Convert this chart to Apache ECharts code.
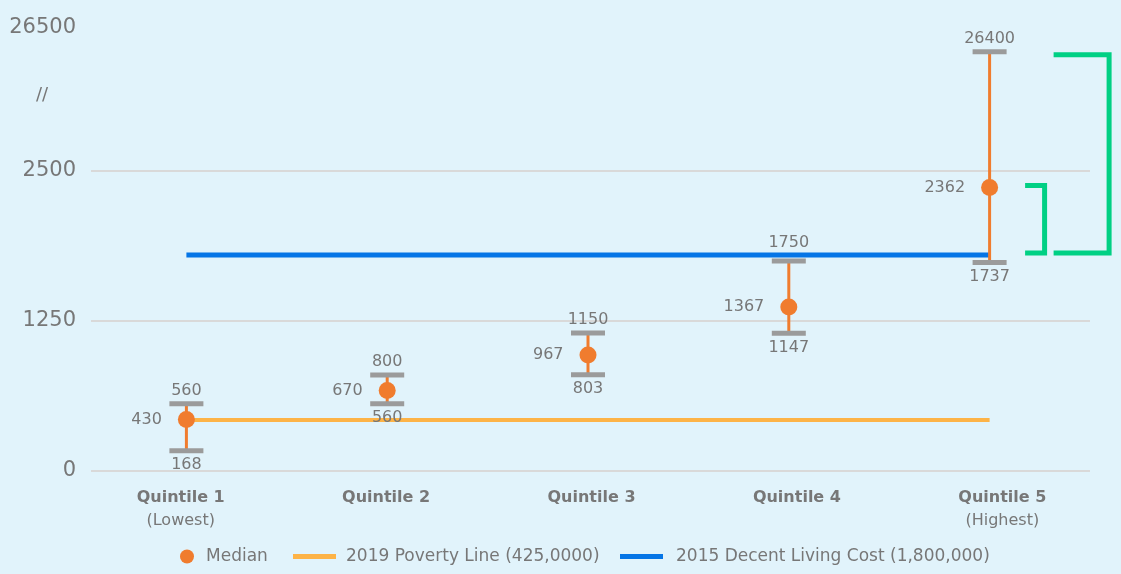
<!DOCTYPE html>
<html>
<head>
<meta charset="utf-8">
<style>
  html, body { margin: 0; padding: 0; background: #E1F3FB; }
  #chart { width: 1121px; height: 574px; }
</style>
<script src="https://cdn.jsdelivr.net/npm/echarts@6/dist/echarts.min.js"></script>
</head>
<body>
<div id="chart"></div>
<script>
// ---------- data ----------
const categories = ['Quintile 1', 'Quintile 2', 'Quintile 3', 'Quintile 4', 'Quintile 5'];
const categorySub = ['(Lowest)', '', '', '', '(Highest)'];
const medianValues = [430, 670, 967, 1367, 2362];
const lowValues = [168, 560, 803, 1147, 1737];
const highValues = [560, 800, 1150, 1750, 26400];
const povertyLine = [425, 425, 425, 425, 425];
const decentLivingCost = [1800, 1800, 1800, 1800, 1800];
const yTickValues = [0, 1250, 2500, 26500];
const bracketRanges = [[1800, 26400], [1800, 2362]];
const seriesNames = ['Median', '2019 Poverty Line (425,0000)', '2015 Decent Living Cost (1,800,000)'];

// ---------- broken axis mapping ----------
const AXIS_BREAK = 2500;          // linear up to here
const BREAK_SCALE = 0.04159;      // compression above the break
const AXIS_TOP_DISPLAY = 3692;    // display position of the top tick
function disp(v) { return v <= AXIS_BREAK ? v : AXIS_BREAK + (v - AXIS_BREAK) * BREAK_SCALE; }

// ---------- styles ----------
const FONT = '"DejaVu Sans", sans-serif';
const ORANGE = '#F07C2E';
const POVERTY = '#FDB347';
const BLUE = '#0575E6';
const GREEN = '#00D084';
const CAP = '#9B9B9B';
const TXT = '#777777';
const GRIDC = '#D9D9D9';

const chart = echarts.init(document.getElementById('chart'), null, { renderer: 'canvas' });

const gridBase = { top: 28, bottom: 103, outerBoundsMode: 'none', containLabel: false };

const option = {
  backgroundColor: '#E1F3FB',
  animation: false,
  textStyle: { fontFamily: FONT },
  grid: [
    Object.assign({ left: 86, right: 31 }, gridBase),   // data
    Object.assign({ left: 91, right: 31 }, gridBase),   // y labels + grid lines
    Object.assign({ left: 78, right: 16 }, gridBase)    // x labels
  ],
  xAxis: [
    { type: 'category', gridIndex: 0, data: categories, boundaryGap: true, show: false },
    { type: 'value', gridIndex: 1, min: 0, max: 1, show: false },
    {
      type: 'category', gridIndex: 2, data: categories, boundaryGap: true,
      axisLine: { show: false }, axisTick: { show: false }, splitLine: { show: false },
      axisLabel: {
        margin: 16,
        interval: 0,
        formatter: function (v, i) {
          return categorySub[i] ? '{b|' + v + '}\n{s|' + categorySub[i] + '}' : '{b|' + v + '}';
        },
        rich: {
          b: { fontFamily: FONT, fontWeight: 'bold', fontSize: 16, color: TXT, lineHeight: 22 },
          s: { fontFamily: FONT, fontSize: 16, color: TXT, lineHeight: 24 }
        }
      }
    }
  ],
  yAxis: [
    { type: 'value', gridIndex: 0, min: 0, max: AXIS_TOP_DISPLAY, show: false },
    {
      type: 'value', gridIndex: 1, min: 0, max: AXIS_TOP_DISPLAY, interval: 1250,
      axisLine: { show: false }, axisTick: { show: false },
      splitLine: { show: true, lineStyle: { color: [GRIDC, GRIDC, GRIDC, 'rgba(0,0,0,0)'], width: 2 } },
      axisLabel: {
        margin: 15, fontFamily: FONT, fontSize: 21, color: TXT,
        showMaxLabel: true,
        formatter: function (v) {
          if (v >= AXIS_TOP_DISPLAY - 1) return String(yTickValues[3]);
          return String(v);
        }
      }
    },
    { type: 'value', gridIndex: 2, min: 0, max: AXIS_TOP_DISPLAY, show: false }
  ],
  legend: [
    {
      data: [{ name: seriesNames[0], icon: 'circle' }],
      left: 180, top: 548, padding: 0, itemWidth: 14, itemHeight: 14, selectedMode: false,
      textStyle: { fontFamily: FONT, fontSize: 17, color: TXT, padding: [0, 0, 0, 7] }
    },
    {
      data: [{ name: seriesNames[1], icon: 'rect' }],
      left: 293, top: 548, padding: 0, itemWidth: 43, itemHeight: 5, selectedMode: false,
      textStyle: { fontFamily: FONT, fontSize: 17, color: TXT, padding: [0, 0, 0, 5] }
    },
    {
      data: [{ name: seriesNames[2], icon: 'rect' }],
      left: 620, top: 548, padding: 0, itemWidth: 43, itemHeight: 5, selectedMode: false,
      textStyle: { fontFamily: FONT, fontSize: 17, color: TXT, padding: [0, 0, 0, 8] }
    }
  ],
  graphic: [
    {
      type: 'text', left: 36, top: 86, z: 10,
      style: { text: '//', font: '18px ' + FONT, fill: TXT }
    }
  ],
  series: [
    {
      name: seriesNames[1], type: 'line', xAxisIndex: 0, yAxisIndex: 0,
      data: povertyLine.map(disp), symbol: 'none', z: 2,
      itemStyle: { color: POVERTY },
      lineStyle: { color: POVERTY, width: 4 }
    },
    {
      name: seriesNames[2], type: 'line', xAxisIndex: 0, yAxisIndex: 0,
      data: decentLivingCost.map(disp), symbol: 'none', z: 2,
      itemStyle: { color: BLUE },
      lineStyle: { color: BLUE, width: 5 }
    },
    {
      name: 'range', type: 'custom', xAxisIndex: 0, yAxisIndex: 0, z: 3, clip: false,
      data: categories.map(function (c, i) { return [i, disp(lowValues[i]), disp(highValues[i]), disp(decentLivingCost[i])]; }),
      encode: { x: 0, y: [1, 2] },
      renderItem: function (params, api) {
        const i = api.value(0);
        const lo = api.coord([i, api.value(1)]);
        const hi = api.coord([i, api.value(2)]);
        const lineY = api.coord([i, api.value(3)])[1];
        const idx = params.dataIndex;
        const font = '16px ' + FONT;
        let hiLabelY = hi[1] - 13;
        // keep the upper label clear of the decent-living line
        if (Math.abs(hiLabelY - lineY) < 11) hiLabelY = lineY - 12;
        return {
          type: 'group',
          children: [
            { type: 'line', shape: { x1: lo[0], y1: lo[1], x2: hi[0], y2: hi[1] }, style: { stroke: ORANGE, lineWidth: 3 } },
            { type: 'rect', shape: { x: hi[0] - 17, y: hi[1] - 2.5, width: 34, height: 5 }, style: { fill: CAP } },
            { type: 'rect', shape: { x: lo[0] - 17, y: lo[1] - 2.5, width: 34, height: 5 }, style: { fill: CAP } },
            { type: 'text', x: hi[0], y: hiLabelY, style: { text: String(highValues[idx]), font: font, fill: TXT, align: 'center', verticalAlign: 'middle' } },
            { type: 'text', x: lo[0], y: lo[1] + 14, style: { text: String(lowValues[idx]), font: font, fill: TXT, align: 'center', verticalAlign: 'middle' } }
          ]
        };
      }
    },
    {
      name: seriesNames[0], type: 'scatter', xAxisIndex: 0, yAxisIndex: 0, z: 4,
      data: medianValues.map(function (v, i) { return [i, disp(v)]; }),
      symbol: 'circle', symbolSize: 17,
      itemStyle: { color: ORANGE, opacity: 1 },
      label: {
        show: true, position: 'left', distance: 16,
        fontFamily: FONT, fontSize: 16, color: TXT,
        formatter: function (p) { return String(medianValues[p.dataIndex]); }
      }
    },
    {
      name: 'brackets', type: 'custom', xAxisIndex: 0, yAxisIndex: 0, z: 3, clip: false,
      data: bracketRanges.map(function (r) { return [categories.length - 1, disp(r[0]), disp(r[1])]; }),
      encode: { x: 0, y: [1, 2] },
      renderItem: function (params, api) {
        const i = api.value(0);
        const lo = api.coord([i, api.value(1)]);
        const hi = api.coord([i, api.value(2)]);
        const offs = params.dataIndex === 0 ? [64, 119.5] : [35.5, 55];
        const xl = lo[0] + offs[0], xr = lo[0] + offs[1];
        const yb = lo[1] - 2, yt = hi[1] + (params.dataIndex === 0 ? 3 : -2);
        return {
          type: 'polyline',
          shape: { points: [[xl, yt], [xr, yt], [xr, yb], [xl, yb]] },
          style: { stroke: GREEN, lineWidth: 5, fill: null, lineJoin: 'miter' }
        };
      }
    }
  ]
};

chart.setOption(option);
</script>
</body>
</html>
